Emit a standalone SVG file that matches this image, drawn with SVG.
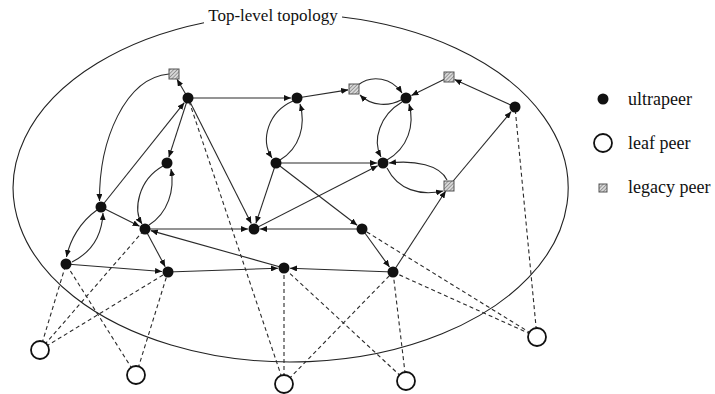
<svg xmlns="http://www.w3.org/2000/svg" width="715" height="394" viewBox="0 0 715 394">
<style>
.e{fill:none;stroke:#2a2a2a;stroke-width:1.1;marker-end:url(#ah)}
.d{fill:none;stroke:#2a2a2a;stroke-width:1.1;stroke-dasharray:4,3}
.u{fill:#111}
.lf{fill:#fff;stroke:#111;stroke-width:1.8}
.lg{fill:url(#hatch);stroke:#555;stroke-width:1}
.t{font-family:"Liberation Serif","Times New Roman",serif;fill:#111}
</style>
<defs>
<marker id="ah" markerUnits="userSpaceOnUse" markerWidth="7" markerHeight="6" refX="7" refY="3" orient="auto">
<path d="M0,0 L7,3 L0,6 z" fill="#111"/>
</marker>
<pattern id="hatch" patternUnits="userSpaceOnUse" width="2.6" height="2.6" patternTransform="rotate(45)">
<rect width="2.6" height="2.6" fill="#d8d8d8"/>
<line x1="0" y1="0" x2="0" y2="2.6" stroke="#666" stroke-width="1.1"/>
</pattern>
</defs>
<rect width="715" height="394" fill="#fff"/>
<g id="boundary">
<path d="M204,22.7 A277.5,174 0 1 0 342,17" fill="none" stroke="#222" stroke-width="1.1"/>
<text class="t" x="273" y="21" font-size="17" text-anchor="middle">Top-level topology</text>
</g>
<g id="connectors">
<line class="d" x1="40" y1="350" x2="66" y2="264"/>
<line class="d" x1="40" y1="350" x2="145" y2="229"/>
<line class="d" x1="40" y1="350" x2="168" y2="272"/>
<line class="d" x1="136" y1="375" x2="66" y2="264"/>
<line class="d" x1="136" y1="375" x2="168" y2="272"/>
<line class="d" x1="284" y1="384" x2="188" y2="98"/>
<line class="d" x1="284" y1="384" x2="284" y2="268"/>
<line class="d" x1="284" y1="384" x2="393" y2="272"/>
<line class="d" x1="406" y1="381" x2="284" y2="268"/>
<line class="d" x1="406" y1="381" x2="393" y2="272"/>
<line class="d" x1="537" y1="337" x2="515" y2="107"/>
<line class="d" x1="537" y1="337" x2="362" y2="229"/>
<line class="d" x1="537" y1="337" x2="393" y2="272"/>
<line class="e" x1="188" y1="98" x2="177" y2="79.2"/>
<line class="e" x1="101" y1="207" x2="184.3" y2="102.7"/>
<line class="e" x1="188" y1="98" x2="168.8" y2="157.3"/>
<line class="e" x1="188" y1="98" x2="251.3" y2="223.6"/>
<line class="e" x1="188" y1="98" x2="291" y2="98"/>
<line class="e" x1="297" y1="98" x2="348.1" y2="89.9"/>
<line class="e" x1="449" y1="77" x2="411.4" y2="95.4"/>
<line class="e" x1="515" y1="107" x2="454.5" y2="79.5"/>
<line class="e" x1="101" y1="207" x2="139.6" y2="226.3"/>
<line class="e" x1="145" y1="229" x2="248" y2="229"/>
<line class="e" x1="284" y1="268" x2="150.8" y2="230.6"/>
<line class="e" x1="145" y1="229" x2="165.2" y2="266.7"/>
<line class="e" x1="66" y1="264" x2="162" y2="271.5"/>
<line class="e" x1="168" y1="272" x2="278" y2="268.2"/>
<line class="e" x1="393" y1="272" x2="290" y2="268.2"/>
<line class="e" x1="362" y1="229" x2="260" y2="229"/>
<line class="e" x1="276" y1="163" x2="255.9" y2="223.3"/>
<line class="e" x1="254" y1="229" x2="377.7" y2="165.7"/>
<line class="e" x1="276" y1="163" x2="377" y2="163"/>
<line class="e" x1="276" y1="163" x2="357.2" y2="225.3"/>
<line class="e" x1="362" y1="229" x2="389.5" y2="267.1"/>
<line class="e" x1="393" y1="272" x2="445.7" y2="191"/>
<line class="e" x1="449" y1="186" x2="511.2" y2="111.6"/>
<path class="e" d="M169,74 C125,78 99,140 99.5,201"/>
<path class="e" d="M163,166 C138,180 133,210 142,224"/>
<path class="e" d="M149,225 C168,213 175,190 171,169"/>
<path class="e" d="M293,101 C268,112 260,140 272,158"/>
<path class="e" d="M280,160 C300,148 306,125 300,104"/>
<path class="e" d="M358,85 C372,74 392,78 402,93"/>
<path class="e" d="M401,100 C390,106 372,107 360,95"/>
<path class="e" d="M402,102 C380,115 372,140 381,157"/>
<path class="e" d="M387,160 C408,148 415,125 409,104"/>
<path class="e" d="M447,180 C440,165 415,160 389,163"/>
<path class="e" d="M387,168 C398,190 420,196 443,191"/>
<path class="e" d="M97,210 C80,222 70,240 66.5,257"/>
<path class="e" d="M72,262 C92,252 102,235 103,213"/>
</g>
<g id="A"><circle class="u" cx="188" cy="98" r="5.5"/></g>
<g id="B"><circle class="u" cx="297" cy="98" r="5.5"/></g>
<g id="C"><circle class="u" cx="406" cy="98" r="5.5"/></g>
<g id="D"><circle class="u" cx="515" cy="107" r="5.5"/></g>
<g id="E"><circle class="u" cx="167" cy="163" r="5.5"/></g>
<g id="F"><circle class="u" cx="276" cy="163" r="5.5"/></g>
<g id="G"><circle class="u" cx="383" cy="163" r="5.5"/></g>
<g id="H"><circle class="u" cx="101" cy="207" r="5.5"/></g>
<g id="I"><circle class="u" cx="145" cy="229" r="5.5"/></g>
<g id="J"><circle class="u" cx="254" cy="229" r="5.5"/></g>
<g id="K"><circle class="u" cx="362" cy="229" r="5.5"/></g>
<g id="L"><circle class="u" cx="66" cy="264" r="5.5"/></g>
<g id="M"><circle class="u" cx="168" cy="272" r="5.5"/></g>
<g id="N"><circle class="u" cx="284" cy="268" r="5.5"/></g>
<g id="O"><circle class="u" cx="393" cy="272" r="5.5"/></g>
<g id="P1"><rect class="lg" x="169" y="69" width="10" height="10"/></g>
<g id="P2"><rect class="lg" x="349" y="84" width="10" height="10"/></g>
<g id="P3"><rect class="lg" x="444" y="72" width="10" height="10"/></g>
<g id="P4"><rect class="lg" x="444" y="181" width="10" height="10"/></g>
<g id="Q1"><circle class="lf" cx="40" cy="350" r="9"/></g>
<g id="Q2"><circle class="lf" cx="136" cy="375" r="9"/></g>
<g id="Q3"><circle class="lf" cx="284" cy="384" r="9"/></g>
<g id="Q4"><circle class="lf" cx="406" cy="381" r="9"/></g>
<g id="Q5"><circle class="lf" cx="537" cy="337" r="9"/></g>
<g id="legend">
<circle class="u" cx="603" cy="99" r="5.5"/>
<text class="t" x="628" y="105" font-size="18">ultrapeer</text>
<circle class="lf" cx="603" cy="143" r="9"/>
<text class="t" x="628" y="149" font-size="18">leaf peer</text>
<rect class="lg" x="599" y="184" width="8" height="8"/>
<text class="t" x="628" y="193" font-size="18">legacy peer</text>
</g>
</svg>
